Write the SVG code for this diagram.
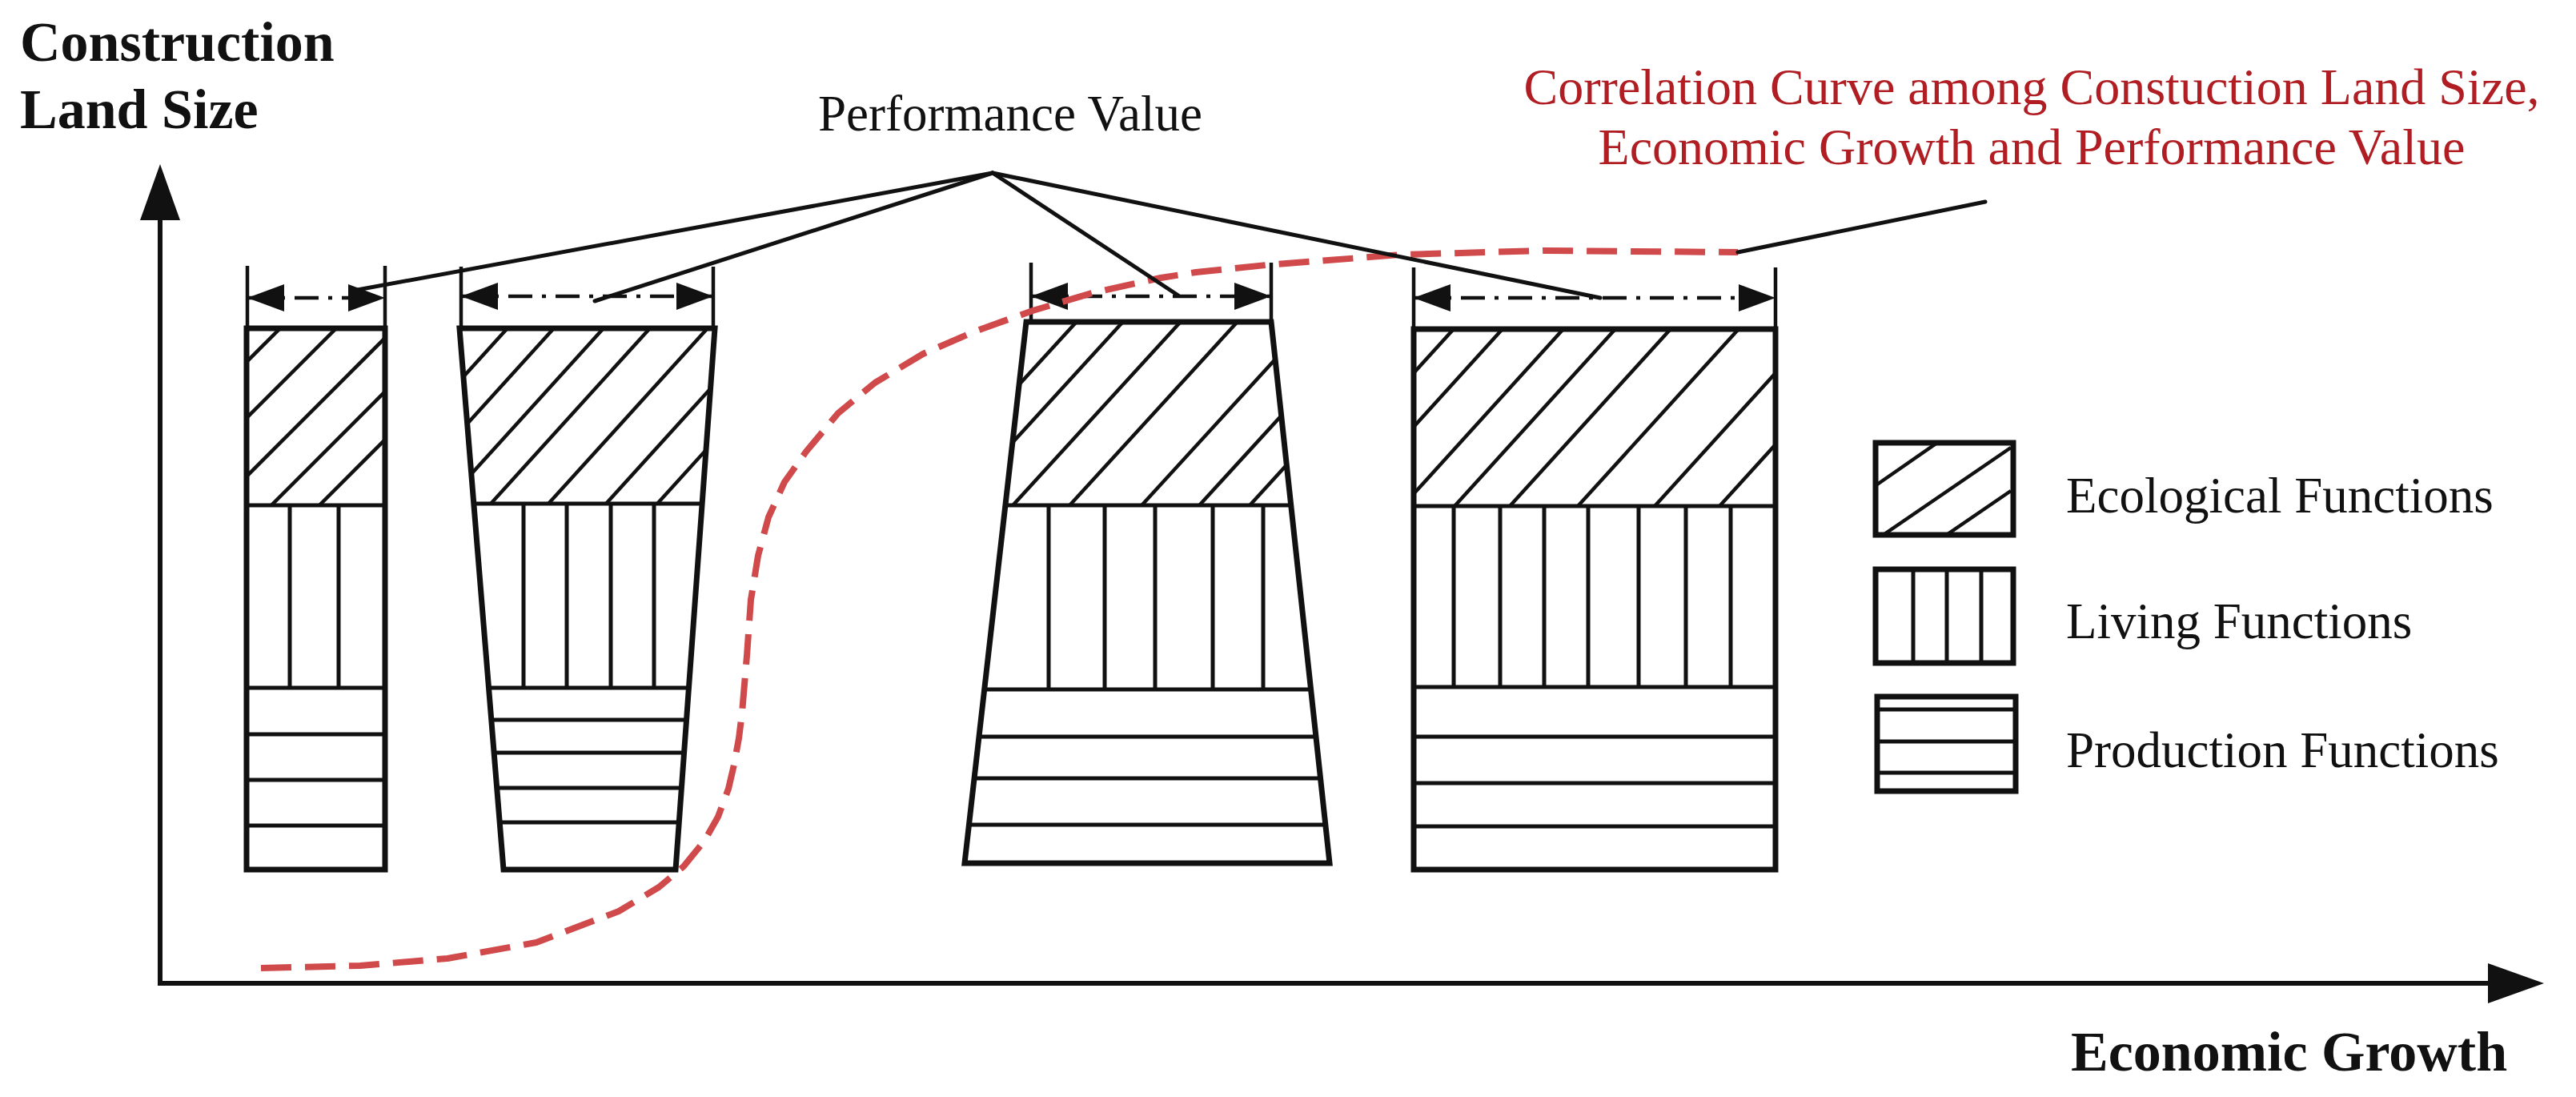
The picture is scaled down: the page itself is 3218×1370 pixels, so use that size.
<svg xmlns="http://www.w3.org/2000/svg" width="3218" height="1370" viewBox="0 0 3218 1370">
<style>
.out{fill:none;stroke:#111;stroke-width:7;stroke-linejoin:miter}
.hl{stroke:#111;stroke-width:5;fill:none}
.hatch{stroke:#111;stroke-width:4.5;fill:none}
.tick{stroke:#111;stroke-width:4.5}
.dim{stroke:#111;stroke-width:4.5;stroke-dasharray:30 12 5 12;fill:none;marker-start:url(#dimArrow);marker-end:url(#dimArrow)}
.lead{stroke:#111;stroke-width:5;fill:none;stroke-linecap:round}
.axis{stroke:#111;stroke-width:6;fill:none;marker-end:url(#axisArrow)}
.curve{fill:none;stroke:#d0494b;stroke-width:8;stroke-dasharray:38 17;stroke-linejoin:round}
.axlab{font-family:"Liberation Serif","Times New Roman",serif;font-weight:bold;font-size:70px;fill:#111}
.lab{font-family:"Liberation Serif","Times New Roman",serif;font-size:63px;fill:#111}
.red{font-family:"Liberation Serif","Times New Roman",serif;font-size:64px;fill:#b01e23}
</style>
<defs>
<marker id="dimArrow" viewBox="0 0 46 34" refX="46" refY="17" markerWidth="46" markerHeight="34" markerUnits="userSpaceOnUse" orient="auto-start-reverse">
<path d="M0,0 L46,17 L0,34 Z" fill="#111"/>
</marker>
<marker id="axisArrow" viewBox="0 0 70 50" refX="0" refY="25" markerWidth="70" markerHeight="50" markerUnits="userSpaceOnUse" orient="auto">
<path d="M0,0 L70,25 L0,50 Z" fill="#111"/>
</marker>
<clipPath id="eco1"><rect x="308" y="410" width="173" height="221"/></clipPath>
<clipPath id="eco2"><polygon points="574,410 893,410 877,629 592,629"/></clipPath>
<clipPath id="bar2c"><polygon points="574,410 893,410 844,1086 629,1086"/></clipPath>
<clipPath id="eco3"><polygon points="1282,402 1588,402 1613,631 1256,631"/></clipPath>
<clipPath id="bar3c"><polygon points="1282,402 1588,402 1661,1078 1205,1078"/></clipPath>
<clipPath id="eco4"><rect x="1766" y="411" width="452" height="221"/></clipPath>
<clipPath id="legEco"><rect x="2343" y="553" width="172" height="115"/></clipPath>
</defs>
<rect x="0" y="0" width="3218" height="1370" fill="#fff"/>

<g id="axes">
<line class="axis" x1="200" y1="1231" x2="200" y2="275"/>
<line class="axis" x1="197" y1="1228" x2="3108" y2="1228"/>
<text class="axlab" x="25" y="76">Construction</text>
<text class="axlab" x="25" y="160">Land Size</text>
<text class="axlab" x="2587" y="1337">Economic Growth</text>
</g>

<g id="bar1">
<line class="tick" x1="309" y1="332" x2="309" y2="410"/>
<line class="tick" x1="481" y1="332" x2="481" y2="410"/>
<line class="dim" x1="309" y1="372" x2="481" y2="372"/>
<g clip-path="url(#eco1)" class="hatch">
<line x1="109" y1="651" x2="370" y2="390"/>
<line x1="179" y1="651" x2="440" y2="390"/>
<line x1="252" y1="651" x2="513" y2="390"/>
<line x1="319" y1="651" x2="580" y2="390"/>
<line x1="379" y1="651" x2="640" y2="390"/>
</g>
<g class="hl">
<line x1="308" y1="631" x2="481" y2="631"/>
<line x1="308" y1="859" x2="481" y2="859"/>
<line x1="362" y1="631" x2="362" y2="859"/>
<line x1="423" y1="631" x2="423" y2="859"/>
<line x1="308" y1="917" x2="481" y2="917"/>
<line x1="308" y1="974" x2="481" y2="974"/>
<line x1="308" y1="1031" x2="481" y2="1031"/>
</g>
<rect class="out" x="308" y="410" width="173" height="676"/>
</g>

<g id="bar2">
<line class="tick" x1="576" y1="333" x2="576" y2="410"/>
<line class="tick" x1="891" y1="333" x2="891" y2="410"/>
<line class="dim" x1="576" y1="370" x2="891" y2="370"/>
<g clip-path="url(#eco2)" class="hatch">
<line x1="417" y1="649" x2="652" y2="390"/>
<line x1="475" y1="649" x2="710" y2="390"/>
<line x1="537" y1="649" x2="772" y2="390"/>
<line x1="595" y1="649" x2="830" y2="390"/>
<line x1="667" y1="649" x2="902" y2="390"/>
<line x1="739" y1="649" x2="974" y2="390"/>
<line x1="803" y1="649" x2="1038" y2="390"/>
</g>
<g clip-path="url(#bar2c)" class="hl">
<line x1="560" y1="629" x2="900" y2="629"/>
<line x1="560" y1="859" x2="900" y2="859"/>
<line x1="654" y1="629" x2="654" y2="859"/>
<line x1="708" y1="629" x2="708" y2="859"/>
<line x1="763" y1="629" x2="763" y2="859"/>
<line x1="817" y1="629" x2="817" y2="859"/>
<line x1="560" y1="899" x2="900" y2="899"/>
<line x1="560" y1="940" x2="900" y2="940"/>
<line x1="560" y1="984" x2="900" y2="984"/>
<line x1="560" y1="1027" x2="900" y2="1027"/>
</g>
<polygon class="out" points="574,410 893,410 844,1086 629,1086"/>
</g>

<g id="bar3">
<line class="tick" x1="1288" y1="328" x2="1288" y2="402"/>
<line class="tick" x1="1588" y1="328" x2="1588" y2="402"/>
<line class="dim" x1="1288" y1="370" x2="1588" y2="370"/>
<g clip-path="url(#eco3)" class="hatch">
<line x1="1117" y1="651" x2="1363" y2="382"/>
<line x1="1175" y1="651" x2="1421" y2="382"/>
<line x1="1247" y1="651" x2="1493" y2="382"/>
<line x1="1318" y1="651" x2="1564" y2="382"/>
<line x1="1408" y1="651" x2="1654" y2="382"/>
<line x1="1480" y1="651" x2="1726" y2="382"/>
<line x1="1543" y1="651" x2="1789" y2="382"/>
</g>
<g clip-path="url(#bar3c)" class="hl">
<line x1="1190" y1="631" x2="1680" y2="631"/>
<line x1="1190" y1="861" x2="1680" y2="861"/>
<line x1="1310" y1="631" x2="1310" y2="861"/>
<line x1="1380" y1="631" x2="1380" y2="861"/>
<line x1="1443" y1="631" x2="1443" y2="861"/>
<line x1="1515" y1="631" x2="1515" y2="861"/>
<line x1="1578" y1="631" x2="1578" y2="861"/>
<line x1="1190" y1="920" x2="1680" y2="920"/>
<line x1="1190" y1="972" x2="1680" y2="972"/>
<line x1="1190" y1="1030" x2="1680" y2="1030"/>
</g>
<polygon class="out" points="1282,402 1588,402 1661,1078 1205,1078"/>
</g>

<g id="bar4">
<line class="tick" x1="1766" y1="334" x2="1766" y2="411"/>
<line class="tick" x1="2218" y1="334" x2="2218" y2="411"/>
<line class="dim" x1="1766" y1="372" x2="2218" y2="372"/>
<g clip-path="url(#eco4)" class="hatch">
<line x1="1597" y1="652" x2="1834" y2="391"/>
<line x1="1658" y1="652" x2="1895" y2="391"/>
<line x1="1734" y1="652" x2="1971" y2="391"/>
<line x1="1799" y1="652" x2="2036" y2="391"/>
<line x1="1868" y1="652" x2="2105" y2="391"/>
<line x1="1953" y1="652" x2="2190" y2="391"/>
<line x1="2049" y1="652" x2="2286" y2="391"/>
<line x1="2130" y1="652" x2="2367" y2="391"/>
</g>
<g class="hl">
<line x1="1766" y1="632" x2="2218" y2="632"/>
<line x1="1766" y1="858" x2="2218" y2="858"/>
<line x1="1816" y1="632" x2="1816" y2="858"/>
<line x1="1874" y1="632" x2="1874" y2="858"/>
<line x1="1929" y1="632" x2="1929" y2="858"/>
<line x1="1984" y1="632" x2="1984" y2="858"/>
<line x1="2047" y1="632" x2="2047" y2="858"/>
<line x1="2106" y1="632" x2="2106" y2="858"/>
<line x1="2162" y1="632" x2="2162" y2="858"/>
<line x1="1766" y1="920" x2="2218" y2="920"/>
<line x1="1766" y1="978" x2="2218" y2="978"/>
<line x1="1766" y1="1032" x2="2218" y2="1032"/>
</g>
<rect class="out" x="1766" y="411" width="452" height="675"/>
</g>

<g id="correlation-curve">
<path class="curve" d="M326,1209 L450,1206 L559,1197 L670,1177 L773,1138 L823,1108 L854,1082 L880,1050 L897,1020 L910,985 L917,955 L923,922 L927,890 L933,819 L938,749 L947,694 L960,646 L980,602 L1007,564 L1047,516 L1093,478 L1153,442 L1220,413 L1290,388 L1364,366 L1450,347 L1494,340 L1582,331 L1750,318 L1930,313 L2171,315"/>
</g>

<g id="connectors">
<line class="lead" x1="1240" y1="216" x2="441" y2="363"/>
<line class="lead" x1="1240" y1="216" x2="743" y2="376"/>
<line class="lead" x1="1240" y1="216" x2="1472" y2="369"/>
<line class="lead" x1="1240" y1="216" x2="1999" y2="372"/>
<line class="lead" x1="2171" y1="315" x2="2480" y2="252"/>
</g>

<g id="performance-label">
<text class="lab" x="1262" y="163" text-anchor="middle">Performance Value</text>
</g>

<g id="curve-label">
<text class="red" x="2538" y="130" text-anchor="middle">Correlation Curve among Constuction Land Size,</text>
<text class="red" x="2538" y="205" text-anchor="middle">Economic Growth and Performance Value</text>
</g>

<g id="legend-ecological">
<g clip-path="url(#legEco)" class="hatch">
<line x1="2345" y1="605" x2="2420" y2="553"/>
<line x1="2354" y1="667" x2="2512" y2="559"/>
<line x1="2433" y1="667" x2="2512" y2="613"/>
</g>
<rect class="out" x="2343" y="553" width="172" height="115"/>
<text class="lab" x="2581" y="640">Ecological Functions</text>
</g>
<g id="legend-living">
<g class="hl">
<line x1="2390" y1="711" x2="2390" y2="828"/>
<line x1="2432" y1="711" x2="2432" y2="828"/>
<line x1="2475" y1="711" x2="2475" y2="828"/>
</g>
<rect class="out" x="2343" y="711" width="172" height="117"/>
<text class="lab" x="2581" y="797">Living Functions</text>
</g>
<g id="legend-production">
<g class="hl">
<line x1="2345" y1="886" x2="2518" y2="886"/>
<line x1="2345" y1="926" x2="2518" y2="926"/>
<line x1="2345" y1="965" x2="2518" y2="965"/>
</g>
<rect class="out" x="2345" y="870" width="173" height="118"/>
<text class="lab" x="2581" y="958">Production Functions</text>
</g>
</svg>
